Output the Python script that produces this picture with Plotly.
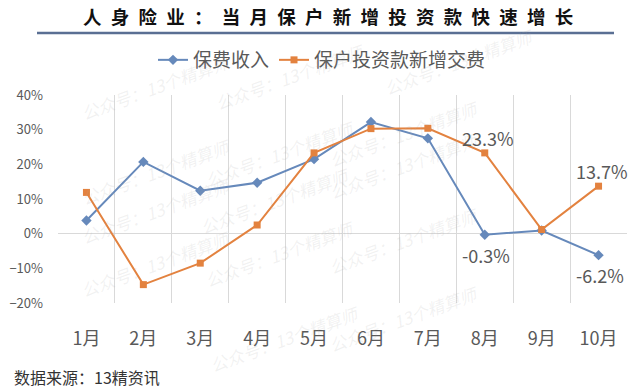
import plotly.graph_objects as go

months = ["1月", "2月", "3月", "4月", "5月", "6月", "7月", "8月", "9月", "10月"]
premium = [3.8, 20.7, 12.4, 14.7, 21.5, 32.2, 27.5, -0.3, 0.9, -6.2]
invest = [11.9, -14.7, -8.5, 2.5, 23.3, 30.3, 30.4, 23.3, 1.2, 13.7]
premium_name = "保费收入"
invest_name = "保户投资款新增交费"
title_text = "人身险业：当月保户新增投资款快速增长"
source_text = "数据来源：13精资讯"
watermark = "公众号：13个精算师"

BLUE = "#6689bb"
ORANGE = "#e3823f"
FONT = "Noto Sans CJK SC"
W, H = 640, 389
L, R, T, B = 58, 13, 95, 86

def px(x, y):
    return (x - L) / (W - L - R), (H - B - y) / (H - T - B)

fig = go.Figure()
fig.add_trace(go.Scatter(x=months, y=premium, name=premium_name, mode="lines+markers",
                         line=dict(color=BLUE, width=2),
                         marker=dict(symbol="diamond", size=8, color=BLUE)))
fig.add_trace(go.Scatter(x=months, y=invest, name=invest_name, mode="lines+markers",
                         line=dict(color=ORANGE, width=2),
                         marker=dict(symbol="square", size=7, color=ORANGE)))

annotations = []
# faint watermarks
wm_pos = [(75, 45), (290, 35), (540, 20),
          (75, 130), (280, 112), (485, 92),
          (75, 210), (275, 200), (485, 165),
          (75, 305), (280, 295), (485, 282),
          (285, 380), (485, 360)]
for (x, y) in wm_pos:
    ax, ay = px(x, y)
    annotations.append(dict(xref="paper", yref="paper", x=ax, y=ay, text=watermark,
                            showarrow=False, textangle=-20,
                            font=dict(family=FONT, size=17, color="rgba(170,170,170,0.16)", style="italic")))

# data labels
def label(series, idx, above):
    annotations.append(dict(x=months[idx], y=series[idx], xref="x", yref="y",
                            text=f"{series[idx]:.1f}%", showarrow=False,
                            yshift=15 if above else -20, xshift=3 if above else 1,
                            font=dict(family=FONT, size=18, color="#595959")))

label(invest, 7, True)
label(invest, 9, True)
label(premium, 7, False)
label(premium, 9, False)

sx, sy = px(12, 377)
annotations.append(dict(xref="paper", yref="paper", x=sx, y=sy, xanchor="left", yanchor="middle",
                        text=source_text, showarrow=False,
                        font=dict(family=FONT, size=16, color="#333333")))

tx, ty = px(328, 16)
annotations.append(dict(xref="paper", yref="paper", x=tx, y=ty, xanchor="center", yanchor="middle",
                        text="\u2002".join(title_text), showarrow=False,
                        font=dict(family=FONT, size=18.5, color="#111111", weight="bold")))

x0, y0 = px(37, 33)
x1, _ = px(614, 33)
shapes = [dict(type="line", xref="paper", yref="paper", x0=x0, x1=x1, y0=y0, y1=y0,
               line=dict(color="#5a6f93", width=2.5))]

fig.update_layout(
    width=W, height=H,
    margin=dict(l=L, r=R, t=T, b=B, autoexpand=False),
    paper_bgcolor="white", plot_bgcolor="white",
    font=dict(family=FONT, color="#595959"),
    showlegend=True,
    legend=dict(orientation="h", xref="container", yref="container",
                x=322 / W, y=1 - 60 / H, xanchor="center", yanchor="middle",
                font=dict(family=FONT, size=19, color="#595959"),
                itemwidth=30, tracegroupgap=0),
    annotations=annotations,
    shapes=shapes,
)
fig.update_xaxes(type="category", tickson="boundaries", showgrid=True, gridcolor="#d9d9d9", gridwidth=1,
                 showline=False, ticks="", tickfont=dict(family=FONT, size=18, color="#595959"),
                 ticklabelstandoff=23, range=[-0.5, 9.5])
fig.update_yaxes(range=[-20, 40], dtick=10, ticksuffix="%", showgrid=False,
                 zeroline=True, zerolinecolor="#d9d9d9", zerolinewidth=1,
                 showline=False, ticks="", tickfont=dict(family=FONT, size=13, color="#595959"),
                 ticklabelstandoff=14)

fig.write_html("out.html", config={"displayModeBar": False},
               post_script="document.body.style.margin='0';document.body.style.overflow='hidden';")
